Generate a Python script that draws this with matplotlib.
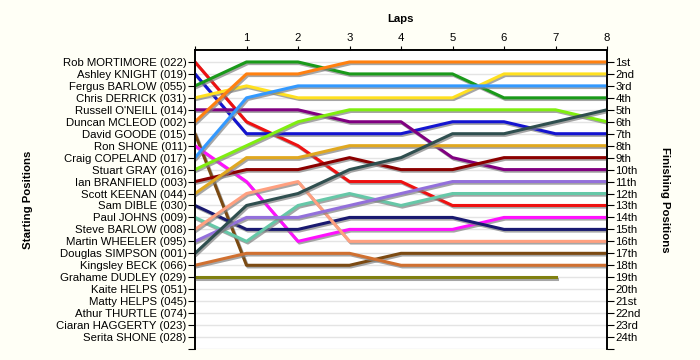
import matplotlib.pyplot as plt
import matplotlib.patheffects as pe

plt.rcParams['font.family'] = ['Liberation Sans', 'DejaVu Sans']

laps = [0, 1, 2, 3, 4, 5, 6, 7, 8]

drivers = [
    "Rob MORTIMORE (022)", "Ashley KNIGHT (019)", "Fergus BARLOW (055)",
    "Chris DERRICK (031)", "Russell O'NEILL (014)", "Duncan MCLEOD (002)",
    "David GOODE (015)", "Ron SHONE (011)", "Craig COPELAND (017)",
    "Stuart GRAY (016)", "Ian BRANFIELD (003)", "Scott KEENAN (044)",
    "Sam DIBLE (030)", "Paul JOHNS (009)", "Steve BARLOW (008)",
    "Martin WHEELER (095)", "Douglas SIMPSON (001)", "Kingsley BECK (066)",
    "Grahame DUDLEY (029)", "Kaite HELPS (051)", "Matty HELPS (045)",
    "Athur THURTLE (074)", "Ciaran HAGGERTY (023)", "Serita SHONE (028)",
]

# race position of each driver after each lap (lap 0 = grid)
positions = [
    [1, 6, 8, 11, 11, 13, 13, 13, 13],
    [2, 7, 7, 7, 7, 6, 6, 7, 7],
    [3, 1, 1, 2, 2, 2, 4, 4, 4],
    [4, 3, 4, 4, 4, 4, 2, 2, 2],
    [5, 5, 5, 6, 6, 9, 10, 10, 10],
    [6, 2, 2, 1, 1, 1, 1, 1, 1],
    [7, 18, 18, 18, 17, 17, 17, 17, 17],
    [8, 11, 16, 15, 15, 15, 14, 14, 14],
    [9, 4, 3, 3, 3, 3, 3, 3, 3],
    [10, 8, 6, 5, 5, 5, 5, 5, 6],
    [11, 10, 10, 9, 10, 10, 9, 9, 9],
    [12, 9, 9, 8, 8, 8, 8, 8, 8],
    [13, 15, 15, 14, 14, 14, 15, 15, 15],
    [14, 16, 13, 12, 13, 12, 12, 12, 12],
    [15, 12, 11, 16, 16, 16, 16, 16, 16],
    [16, 14, 14, 13, 12, 11, 11, 11, 11],
    [17, 13, 12, 10, 9, 7, 7, 6, 5],
    [18, 17, 17, 17, 18, 18, 18, 18, 18],
    [19, 19, 19, 19, 19, 19, 19, 19],
]

finish_labels = ["1st", "2nd", "3rd", "4th", "5th", "6th", "7th", "8th",
                 "9th", "10th", "11th", "12th", "13th", "14th", "15th",
                 "16th", "17th", "18th", "19th", "20th", "21st", "22nd",
                 "23rd", "24th"]

colors = ["#ee1111", "#1414d0", "#1a9a1a", "#ffe020", "#800080", "#ff8010",
          "#7b4a12", "#ff10ff", "#3399ff", "#80ee10", "#8b0000", "#e0a820",
          "#191970", "#66c8a8", "#ffa080", "#9370db", "#2f4f4f", "#d07030",
          "#808010"]

fig = plt.figure(figsize=(7, 3.6), dpi=100, facecolor="#fffff6")
ax = fig.add_axes([195 / 700, 1 - 349 / 360, 412 / 700, 299 / 360])
ax.set_facecolor("white")

shadow = [pe.SimpleLineShadow(offset=(1, -1.2), shadow_color="#808080", alpha=0.7),
          pe.Normal()]
for pos, col in zip(positions, colors):
    ax.plot(laps[:len(pos)], pos, color=col, linewidth=2.2,
            path_effects=shadow, zorder=3)

n = len(drivers)
ax.set_xlim(0, 8)
ax.set_ylim(n + 1, 0)

ax.xaxis.tick_top()
ax.set_xticks(laps)
ax.set_xticklabels([""] + [str(l) for l in laps[1:]])
ax.set_xlabel("Laps", fontweight="bold", fontsize=8.2, labelpad=8)
ax.xaxis.set_label_position("top")

ax.set_yticks(list(range(1, n + 2)))
ax.set_yticklabels(drivers + [""])
ax.set_ylabel("Starting Positions", fontweight="bold", fontsize=8.2, labelpad=17)

ax.set_xticks(laps[1:-1], minor=True)
ax.grid(True, which="minor", axis="x", color="#e4e4e4", linewidth=1)
ax.grid(True, which="major", axis="y", color="#e4e4e4", linewidth=1)
ax.grid(False, which="major", axis="x")
ax.tick_params(axis="x", which="minor", length=0)
ax.tick_params(axis="y", which="major", labelsize=8.2, length=5,
               color="black", pad=1)
ax.tick_params(axis="x", which="major", labelsize=8.2, length=3,
               color="black", pad=2)
ax.set_axisbelow(True)

ax2 = ax.twinx()
ax2.set_ylim(n + 1, 0)
ax2.set_yticks(list(range(1, n + 2)))
ax2.set_yticklabels(finish_labels + [""])
ax2.tick_params(axis="y", labelsize=8.2, length=5, pad=1)
ax2.set_ylabel("Finishing Positions", fontweight="bold", fontsize=8.2,
               rotation=-90, labelpad=21)

for a in (ax, ax2):
    a.spines["bottom"].set_visible(False)
    for s in ("top", "left", "right"):
        a.spines[s].set_linewidth(1.2)

fig.savefig("out.png", dpi=100, facecolor=fig.get_facecolor())
